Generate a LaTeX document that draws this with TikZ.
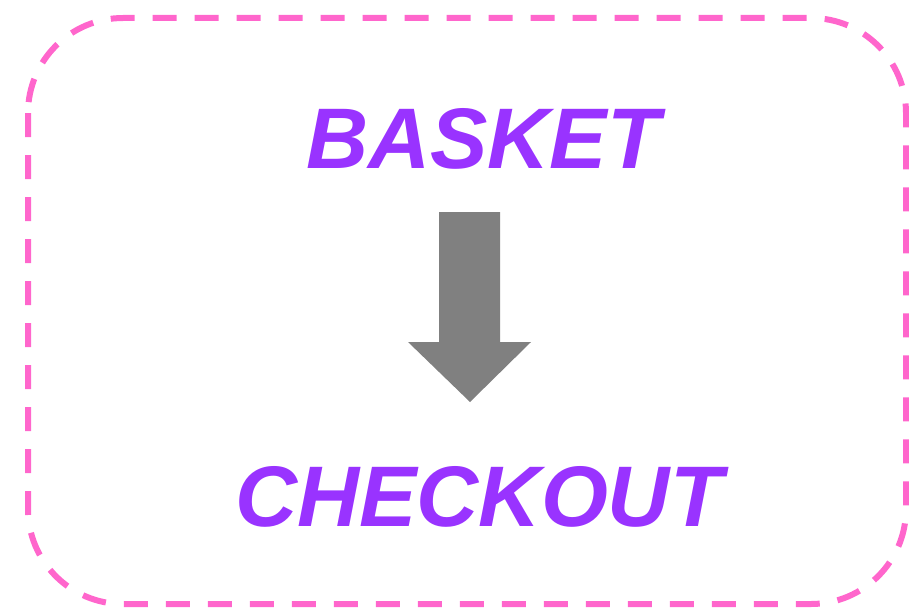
\documentclass[tikz,border=0pt]{standalone}
\usepackage{fontspec}
\setmainfont{Liberation Sans}
\definecolor{boxpink}{HTML}{FF66CC}
\definecolor{wordpurple}{HTML}{9933FF}
\definecolor{arrowgray}{HTML}{808080}
\tikzset{
  word/.style={anchor=base,text=wordpurple,font=\fontsize{86}{86}\selectfont\bfseries\itshape,inner sep=0pt},
}
\begin{document}
\begin{tikzpicture}[x=1pt,y=-1pt]
			\useasboundingbox (0,0) rectangle (909,610);
			\draw[boxpink,line width=6pt,dash pattern=on 24pt off 18pt,rounded corners=95pt] (28,18) rectangle (906,604);
			\node[word] (basket) at (483,168) {BASKET};
			\node[word] (checkout) at (479,526) {CHECKOUT};
			%block arrow between the two words
			\fill[arrowgray] (439,212)--(500,212)--(500,342)--(531,342)--(470,402)--(408,342)--(439,342)--cycle;
		\end{tikzpicture}
\end{document}
